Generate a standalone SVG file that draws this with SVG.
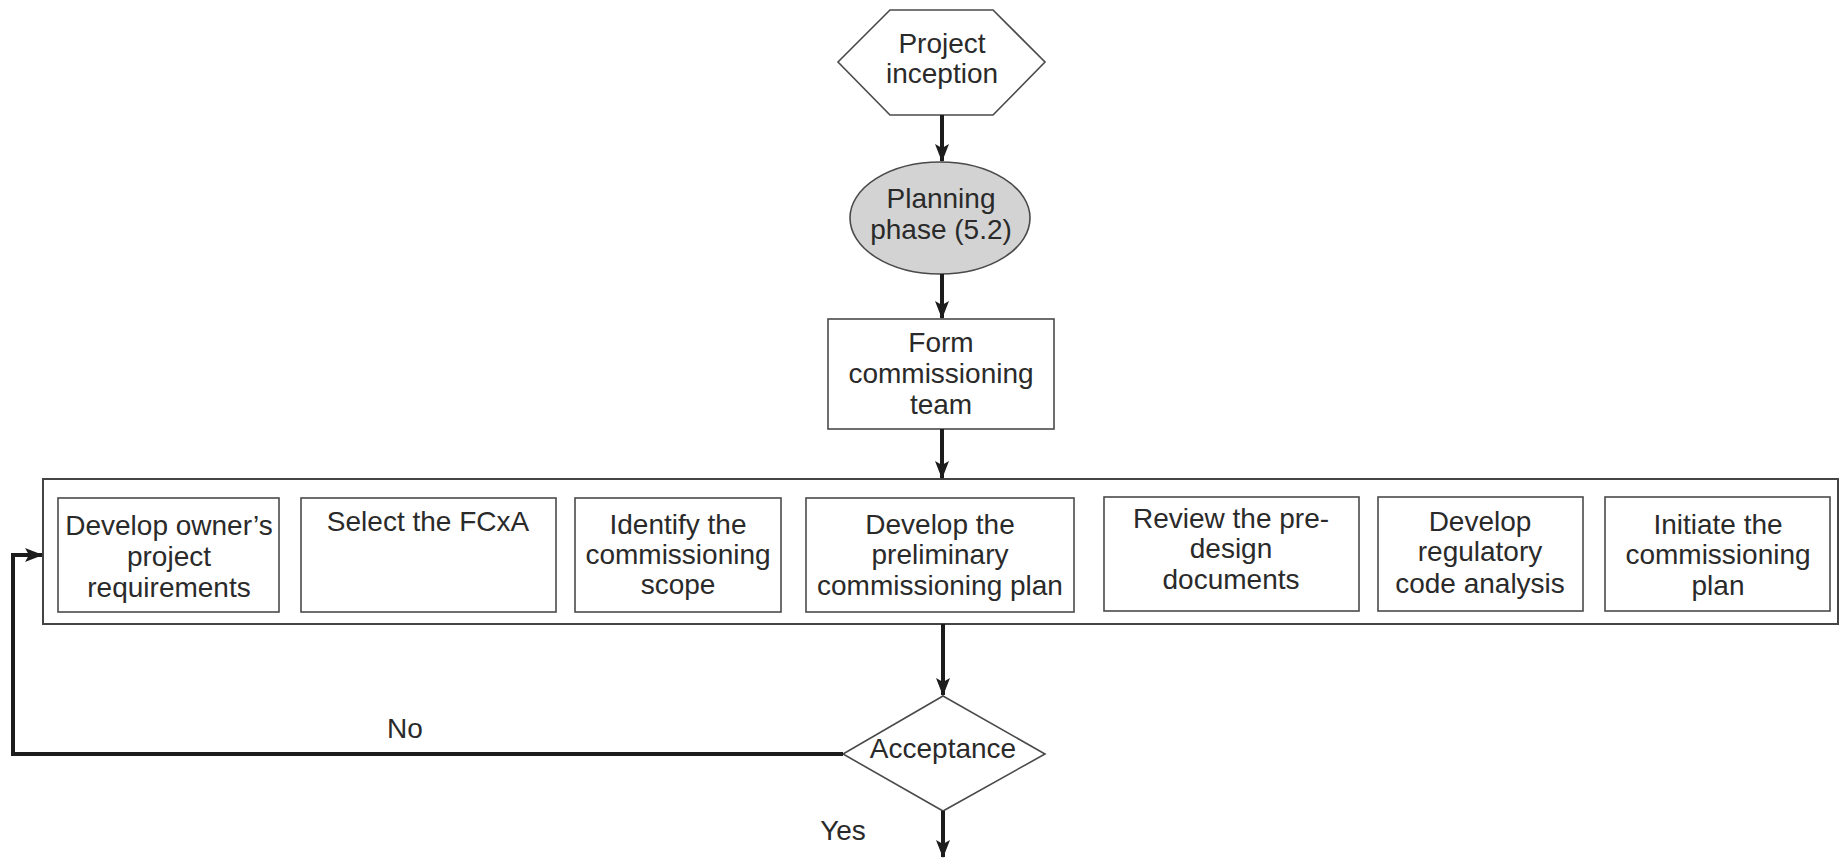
<svg xmlns="http://www.w3.org/2000/svg" width="1841" height="858" viewBox="0 0 1841 858">
<style>
  .t { font-family: "Liberation Sans", Arial, sans-serif; font-size: 28px; fill: #2a2a2a; text-anchor: middle; }
  .box { fill: #ffffff; stroke: #4a4a4a; stroke-width: 1.6; }
  .cont { fill: #ffffff; stroke: #444444; stroke-width: 2; }
  .conn { fill: none; stroke: #1c1c1c; stroke-width: 4; }
</style>
<defs>
  <marker id="arr" viewBox="0 0 18 14" refX="17" refY="7" markerWidth="18" markerHeight="14" markerUnits="userSpaceOnUse" orient="auto">
    <path d="M0,0 L18,7 L0,14 L4,7 z" fill="#1c1c1c"/>
  </marker>
</defs>
<rect width="1841" height="858" fill="#ffffff"/>

<g id="container">
  <rect class="cont" x="43" y="479" width="1795" height="145"/>
</g>

<g id="project-inception">
  <polygon class="box" points="890,10 993,10 1045,62 993,115 890,115 838,62"/>
  <text class="t" x="942" y="53">Project</text>
  <text class="t" x="942" y="83">inception</text>
</g>

<g id="planning-phase">
  <ellipse cx="940" cy="218" rx="90" ry="56" fill="#d3d3d3" stroke="#4a4a4a" stroke-width="1.6"/>
  <text class="t" x="941" y="208">Planning</text>
  <text class="t" x="941" y="239">phase (5.2)</text>
</g>

<g id="form-team">
  <rect class="box" x="828" y="319" width="226" height="110"/>
  <text class="t" x="941" y="352">Form</text>
  <text class="t" x="941" y="383">commissioning</text>
  <text class="t" x="941" y="414">team</text>
</g>

<g id="develop-opr">
  <rect class="box" x="58" y="498" width="221" height="114"/>
  <text class="t" x="169" y="535">Develop owner’s</text>
  <text class="t" x="169" y="566">project</text>
  <text class="t" x="169" y="597">requirements</text>
</g>

<g id="select-fcxa">
  <rect class="box" x="301" y="498" width="255" height="114"/>
  <text class="t" x="428" y="531">Select the FCxA</text>
</g>

<g id="identify-scope">
  <rect class="box" x="575" y="498" width="206" height="114"/>
  <text class="t" x="678" y="534">Identify the</text>
  <text class="t" x="678" y="564">commissioning</text>
  <text class="t" x="678" y="594">scope</text>
</g>

<g id="preliminary-plan">
  <rect class="box" x="806" y="498" width="268" height="114"/>
  <text class="t" x="940" y="534">Develop the</text>
  <text class="t" x="940" y="564">preliminary</text>
  <text class="t" x="940" y="595">commissioning plan</text>
</g>

<g id="review-predesign">
  <rect class="box" x="1104" y="497" width="255" height="114"/>
  <text class="t" x="1231" y="528">Review the pre-</text>
  <text class="t" x="1231" y="558">design</text>
  <text class="t" x="1231" y="589">documents</text>
</g>

<g id="code-analysis">
  <rect class="box" x="1378" y="497" width="205" height="114"/>
  <text class="t" x="1480" y="531">Develop</text>
  <text class="t" x="1480" y="561">regulatory</text>
  <text class="t" x="1480" y="593">code analysis</text>
</g>

<g id="initiate-plan">
  <rect class="box" x="1605" y="497" width="225" height="114"/>
  <text class="t" x="1718" y="534">Initiate the</text>
  <text class="t" x="1718" y="564">commissioning</text>
  <text class="t" x="1718" y="595">plan</text>
</g>

<g id="acceptance">
  <polygon class="box" points="943,696 1045,754 943,811 843,754"/>
  <text class="t" x="943" y="758">Acceptance</text>
</g>

<g id="connectors">
  <line class="conn" x1="942" y1="115" x2="942" y2="161" marker-end="url(#arr)"/>
  <line class="conn" x1="942" y1="274" x2="942" y2="318" marker-end="url(#arr)"/>
  <line class="conn" x1="942" y1="429" x2="942" y2="478" marker-end="url(#arr)"/>
  <line class="conn" x1="943" y1="624" x2="943" y2="695" marker-end="url(#arr)"/>
  <polyline class="conn" points="843,754 13,754 13,555 42,555" marker-end="url(#arr)"/>
  <line class="conn" x1="943" y1="811" x2="943" y2="857" marker-end="url(#arr)"/>
  <text class="t" x="405" y="738">No</text>
  <text class="t" x="843" y="840">Yes</text>
</g>
</svg>
